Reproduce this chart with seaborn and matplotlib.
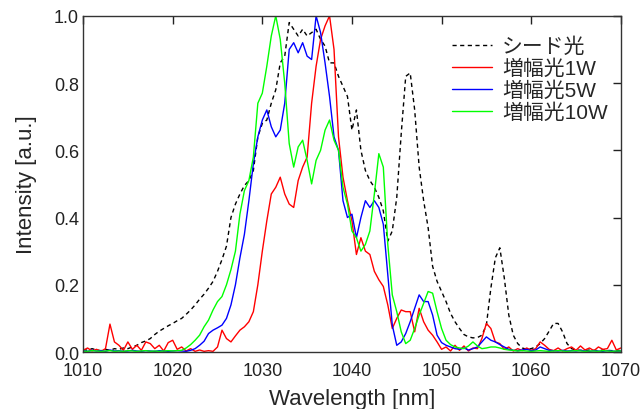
import numpy as np
import pandas as pd
import matplotlib
matplotlib.use("Agg")
import matplotlib.pyplot as plt
import seaborn as sns

# wavelength grid [nm]
wavelength = np.arange(1010.0, 1070.0001, 0.5)

seed = [0.008, 0.005, 0.010, 0.006, 0.004, 0.008, 0.005, 0.010, 0.008, 0.012,
        0.010, 0.015, 0.020, 0.028, 0.033, 0.040, 0.052, 0.062, 0.070, 0.078,
        0.085, 0.093, 0.100, 0.112, 0.125, 0.140, 0.157, 0.172, 0.190, 0.210,
        0.240, 0.275, 0.315, 0.400, 0.440, 0.470, 0.495, 0.510, 0.540, 0.640,
        0.680, 0.690, 0.740, 0.780, 0.860, 0.880, 0.980, 0.960, 0.940, 0.960,
        0.940, 0.950, 0.960, 0.930, 0.910, 0.860, 0.860, 0.820, 0.790, 0.760,
        0.660, 0.720, 0.600, 0.540, 0.510, 0.490, 0.460, 0.420, 0.330, 0.360,
        0.460, 0.650, 0.820, 0.830, 0.720, 0.550, 0.450, 0.370, 0.255, 0.210,
        0.180, 0.150, 0.115, 0.090, 0.070, 0.052, 0.045, 0.042, 0.043, 0.050,
        0.080, 0.190, 0.280, 0.310, 0.220, 0.110, 0.050, 0.025, 0.012, 0.008,
        0.010, 0.015, 0.025, 0.040, 0.062, 0.085, 0.085, 0.060, 0.025, 0.010,
        0.006, 0.005, 0.004, 0.006, 0.005, 0.004, 0.006, 0.005, 0.004, 0.005,
        0.004]

amp_1w = [0.005, 0.012, 0.003, 0.008, 0.002, 0.010, 0.083, 0.030, 0.020, 0.005,
          0.030, 0.008, 0.020, 0.005, 0.030, 0.025, 0.010, 0.020, 0.003, 0.028,
          0.035, 0.008, 0.015, 0.003, 0.010, 0.002, 0.006, 0.002, 0.004, 0.002,
          0.015, 0.065, 0.040, 0.030, 0.048, 0.065, 0.075, 0.090, 0.120, 0.200,
          0.300, 0.390, 0.470, 0.490, 0.520, 0.470, 0.440, 0.430, 0.510, 0.550,
          0.580, 0.740, 0.850, 0.930, 0.970, 1.000, 0.900, 0.640, 0.520, 0.450,
          0.390, 0.290, 0.340, 0.300, 0.290, 0.240, 0.215, 0.195, 0.140, 0.070,
          0.100, 0.125, 0.120, 0.120, 0.060, 0.130, 0.090, 0.065, 0.050, 0.030,
          0.008, 0.015, 0.003, 0.020, 0.005, 0.018, 0.003, 0.012, 0.010, 0.040,
          0.085, 0.070, 0.030, 0.025, 0.008, 0.015, 0.003, 0.010, 0.004, 0.012,
          0.005, 0.010, 0.030, 0.020, 0.008, 0.004, 0.012, 0.003, 0.010, 0.015,
          0.005, 0.018, 0.006, 0.012, 0.004, 0.015, 0.008, 0.010, 0.035, 0.006,
          0.012]

amp_5w = [0.004, 0.002, 0.005, 0.003, 0.004, 0.002, 0.006, 0.003, 0.004, 0.002,
          0.003, 0.005, 0.003, 0.002, 0.004, 0.003, 0.002, 0.004, 0.003, 0.002,
          0.003, 0.004, 0.003, 0.002, 0.005, 0.010, 0.020, 0.032, 0.055, 0.065,
          0.072, 0.080, 0.100, 0.140, 0.200, 0.280, 0.350, 0.450, 0.560, 0.640,
          0.690, 0.720, 0.670, 0.640, 0.660, 0.740, 0.900, 0.920, 0.890, 0.920,
          0.880, 0.870, 1.000, 0.950, 0.860, 0.760, 0.640, 0.600, 0.450, 0.400,
          0.410, 0.340, 0.400, 0.450, 0.430, 0.450, 0.430, 0.380, 0.230, 0.080,
          0.020, 0.030, 0.055, 0.090, 0.130, 0.170, 0.150, 0.150, 0.110, 0.050,
          0.028, 0.020, 0.015, 0.010, 0.008, 0.012, 0.006, 0.010, 0.015, 0.030,
          0.045, 0.035, 0.030, 0.022, 0.015, 0.008, 0.005, 0.004, 0.006, 0.008,
          0.004, 0.006, 0.015, 0.010, 0.005, 0.004, 0.003, 0.005, 0.003, 0.004,
          0.003, 0.005, 0.003, 0.002, 0.004, 0.003, 0.002, 0.004, 0.003, 0.002,
          0.003]

amp_10w = [0.003, 0.002, 0.004, 0.003, 0.002, 0.003, 0.004, 0.002, 0.003, 0.002,
           0.004, 0.003, 0.002, 0.003, 0.004, 0.002, 0.003, 0.002, 0.003, 0.004,
           0.003, 0.004, 0.005, 0.012, 0.022, 0.035, 0.050, 0.075, 0.095, 0.125,
           0.150, 0.165, 0.200, 0.245, 0.300, 0.410, 0.480, 0.510, 0.580, 0.740,
           0.770, 0.850, 0.940, 1.000, 0.930, 0.800, 0.620, 0.550, 0.610, 0.630,
           0.570, 0.500, 0.570, 0.600, 0.660, 0.690, 0.630, 0.600, 0.490, 0.440,
           0.360, 0.340, 0.300, 0.320, 0.360, 0.470, 0.590, 0.550, 0.320, 0.170,
           0.120, 0.060, 0.025, 0.035, 0.070, 0.110, 0.145, 0.180, 0.175, 0.120,
           0.070, 0.035, 0.022, 0.015, 0.012, 0.010, 0.018, 0.030, 0.018, 0.010,
           0.012, 0.015, 0.015, 0.012, 0.008, 0.006, 0.005, 0.003, 0.004, 0.003,
           0.002, 0.003, 0.004, 0.003, 0.002, 0.003, 0.004, 0.003, 0.002, 0.003,
           0.004, 0.003, 0.002, 0.003, 0.003, 0.002, 0.004, 0.003, 0.002, 0.003,
           0.003]

series_names = ["シード光", "増幅光1W", "増幅光5W", "増幅光10W"]
series_values = [seed, amp_1w, amp_5w, amp_10w]
colors = ["black", "#ff0000", "#0000ff", "#00ff00"]

x_ticks = [1010, 1020, 1030, 1040, 1050, 1060, 1070]
y_ticks = [0.0, 0.2, 0.4, 0.6, 0.8, 1.0]

sns.set_style("white")
plt.rcParams['font.family'] = ['Liberation Sans', 'Noto Sans CJK JP', 'DejaVu Sans']

fig = plt.figure(figsize=(6.44, 4.10), dpi=100)
ax = fig.add_axes([0.129, 0.139, 0.835, 0.820])

for name, vals, col in zip(series_names, series_values, colors):
    df = pd.DataFrame({"wl": wavelength, "I": vals})
    ls = (0, (3, 2.5)) if name == "シード光" else "-"
    sns.lineplot(data=df, x="wl", y="I", ax=ax, color=col, lw=1.0,
                 linestyle=ls, label=name, estimator=None, sort=False)

ax.set_xlim(1010, 1070)
ax.set_ylim(0, 1.0)
ax.set_xticks(x_ticks)
ax.set_yticks(y_ticks)
ax.set_xticklabels([str(t) for t in x_ticks])
ax.set_yticklabels([f"{t:.1f}" for t in y_ticks])
ax.tick_params(direction="in", length=6, width=1, top=True, right=True,
               labelsize=13, colors="#222222")
ax.tick_params(axis="x", pad=7)
ax.tick_params(axis="y", pad=3)
for sp in ax.spines.values():
    sp.set_color("#333333")
    sp.set_linewidth(1.0)

ax.set_xlabel("Wavelength [nm]", fontsize=16, labelpad=7)
ax.set_ylabel("Intensity [a.u.]", fontsize=16, labelpad=12)

leg = ax.legend(loc="upper left", bbox_to_anchor=(0.663, 0.975), frameon=False,
                fontsize=15, handlelength=1.9, handletextpad=0.5,
                labelspacing=0.12, borderpad=0.1)

fig.savefig("out.png", dpi=100)
